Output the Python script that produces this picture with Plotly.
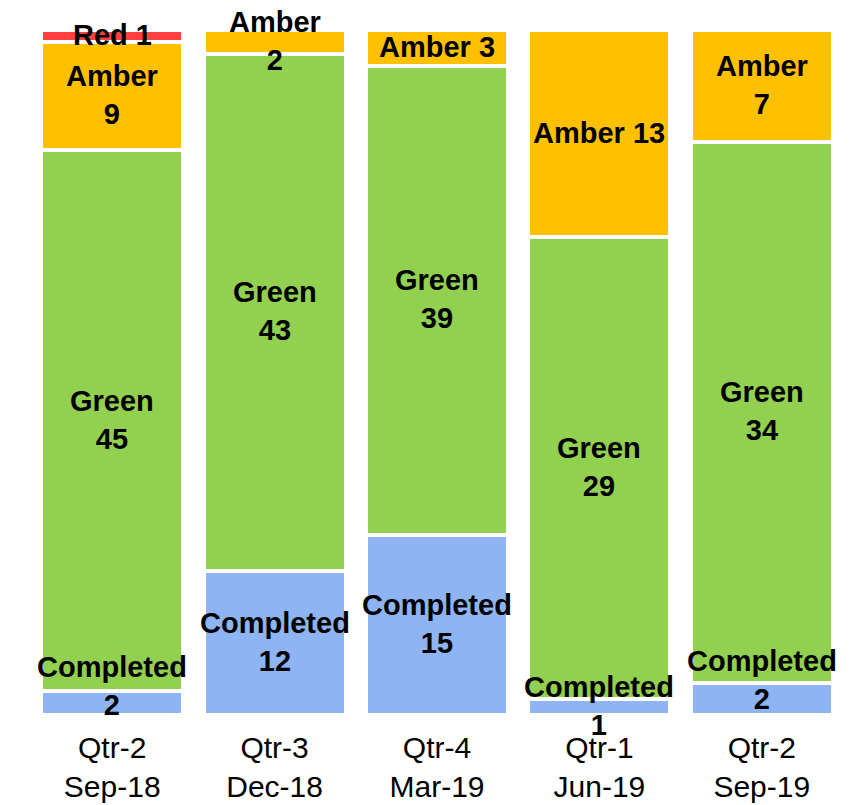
import plotly.graph_objects as go

categories = ["Qtr-2<br>Sep-18", "Qtr-3<br>Dec-18", "Qtr-4<br>Mar-19", "Qtr-1<br>Jun-19", "Qtr-2<br>Sep-19"]

completed = [2, 12, 15, 1, 2]
green = [45, 43, 39, 29, 34]
amber = [9, 2, 3, 13, 7]
red = [1, 0, 0, 0, 0]

# separator between series name and value in each label
completed_sep = ["<br>", "<br>", "<br>", "<br>", "<br>"]
green_sep = ["<br>", "<br>", "<br>", "<br>", "<br>"]
amber_sep = ["<br>", "<br>", " ", " ", "<br>"]
red_sep = [" ", " ", " ", " ", " "]

# extra upward pixel shift of labels (style only)
completed_shift = [16, 0, 0, 0, 18]
no_shift = [0, 0, 0, 0, 0]

series = [
    ("Completed", completed, completed_sep, "#8EB4F3", completed_shift),
    ("Green", green, green_sep, "#92D050", no_shift),
    ("Amber", amber, amber_sep, "#FFC000", no_shift),
    ("Red", red, red_sep, "#FF4040", no_shift),
]

totals = [sum(s[1][i] for s in series) for i in range(len(categories))]

fig = go.Figure()
for name, vals, seps, color, shifts in series:
    fig.add_trace(go.Bar(
        x=categories, y=vals, name=name,
        marker=dict(color=color, line=dict(color="white", width=4)),
        hoverinfo="skip",
    ))

# labels on top of all bars, centred on each segment (percent scale)
cum = [0.0] * len(categories)
for name, vals, seps, color, shifts in series:
    for i, (v, s) in enumerate(zip(vals, seps)):
        if v > 0:
            fig.add_annotation(
                x=categories[i], y=(cum[i] + v / 2) / totals[i] * 100,
                xref="x", yref="y", text=f"{name}{s}{v}", showarrow=False,
                yshift=1 + shifts[i],
                font=dict(family="Liberation Sans, Arial", size=29, color="black", weight="bold"),
            )
        cum[i] += v

fig.update_layout(
    barmode="stack", barnorm="percent", bargap=0.126,
    width=845, height=797,
    margin=dict(l=23, r=10, t=22, b=90),
    plot_bgcolor="white", paper_bgcolor="white",
    showlegend=False,
    xaxis=dict(showgrid=False, showline=False, zeroline=False, automargin=False,
               ticklabelstandoff=12,
               tickfont=dict(family="Liberation Sans, Arial", size=30, color="black")),
    yaxis=dict(visible=False, range=[0, 100], automargin=False),
)

fig.write_html("out.html")
